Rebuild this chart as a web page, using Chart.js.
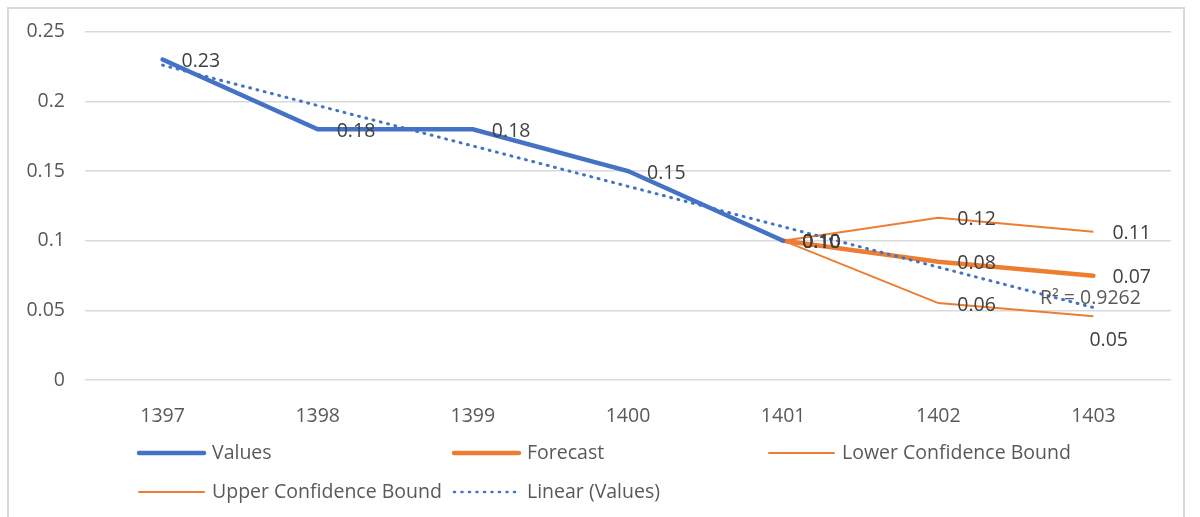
<!DOCTYPE html>
<html>
<head>
<meta charset="utf-8">
<script src="https://cdn.jsdelivr.net/npm/chart.js@4.4.1/dist/chart.umd.min.js"></script>
<style>
html, body { margin: 0; padding: 0; background: #fff; }
#wrap { position: relative; width: 1200px; height: 517px; overflow: hidden; }
#frame { position: absolute; left: 7px; top: 7px; width: 1178px; height: 530px; border: 2px solid #d9d9d9; box-sizing: border-box; }
canvas { position: absolute; left: 0; top: 0; }
</style>
</head>
<body>
<div id="wrap">
  <div id="frame"></div>
  <canvas id="lineChart1" width="1200" height="517"></canvas>
</div>
<script>
// data
const years = ['1397', '1398', '1399', '1400', '1401', '1402', '1403'];
const values = [0.23, 0.18, 0.18, 0.15, 0.10, null, null];
const forecast = [null, null, null, null, 0.10, 0.0849, 0.0748];
const lowerBound = [null, null, null, null, 0.10, 0.0552, 0.0457];
const upperBound = [null, null, null, null, 0.10, 0.1164, 0.1064];
const linearTrend = [0.226, 0.197, 0.168, 0.139, 0.110, 0.081, 0.052];
const rSquaredText = 'R² = 0.9262';

const blue = '#4472C4';
const orange = '#ED7D31';
const textGray = '#595959';
const fontSize = 19.5;

Chart.defaults.font.family = '"Open Sans", sans-serif';
Chart.defaults.font.size = fontSize;
Chart.defaults.color = textGray;

// value labels next to points
const pointLabels = {
    id: 'pointLabels',
    afterDatasetsDraw(chart) {
        const c = chart.ctx;
        c.save();
        c.font = fontSize + 'px "Open Sans", sans-serif';
        c.fillStyle = '#404040';
        c.textBaseline = 'middle';
        chart.data.datasets.forEach((ds, i) => {
            if (!ds.showLabels) return;
            const meta = chart.getDatasetMeta(i);
            meta.data.forEach((pt, j) => {
                const v = ds.data[j];
                if (v == null) return;
                const below = ds.labelBelow && ds.labelBelow.includes(j);
                c.fillText(v.toFixed(2), pt.x + (below ? -4 : 19), pt.y + (below ? 24 : 2));
            });
        });
        // R² text at the end of the trend line
        const trendIdx = chart.data.datasets.findIndex(d => d.isTrend);
        const last = chart.getDatasetMeta(trendIdx).data[linearTrend.length - 1];
        c.fillStyle = textGray;
        c.textAlign = 'center';
        c.fillText(rSquaredText, last.x - 3, last.y - 9);
        c.restore();
    }
};

// excel style legend grid, 3 columns
const gridLegend = {
    id: 'gridLegend',
    afterDraw(chart) {
        const c = chart.ctx;
        const cols = [138, 453, 768];
        const rows = [453, 492];
        c.save();
        c.font = fontSize + 'px "Open Sans", sans-serif';
        c.textBaseline = 'middle';
        chart.data.datasets.forEach((ds, k) => {
            const x = cols[k % 3];
            const y = rows[Math.floor(k / 3)];
            c.beginPath();
            c.strokeStyle = ds.borderColor;
            c.lineWidth = ds.isTrend ? 2.5 : ds.borderWidth;
            c.lineCap = ds.borderCapStyle || 'round';
            c.setLineDash(ds.borderDash || []);
            c.moveTo(x + 1, y);
            c.lineTo(x + 66, y);
            c.stroke();
            c.setLineDash([]);
            c.fillStyle = textGray;
            c.fillText(ds.label, x + 74, y);
        });
        c.restore();
    }
};

new Chart(document.getElementById('lineChart1').getContext('2d'), {
    type: 'line',
    data: {
        labels: years,
        datasets: [
            { label: 'Values', data: values, borderColor: blue, borderWidth: 4.5, borderCapStyle: 'round', showLabels: true },
            { label: 'Forecast', data: forecast, borderColor: orange, borderWidth: 4.5, borderCapStyle: 'round', showLabels: true },
            { label: 'Lower Confidence Bound', data: lowerBound, borderColor: orange, borderWidth: 2, showLabels: true, labelBelow: [6] },
            { label: 'Upper Confidence Bound', data: upperBound, borderColor: orange, borderWidth: 2, showLabels: true },
            { label: 'Linear (Values)', data: linearTrend, borderColor: blue, borderWidth: 3, borderDash: [1, 6.5], borderCapStyle: 'round', isTrend: true, order: -1 }
        ]
    },
    options: {
        responsive: false,
        animation: false,
        elements: { point: { radius: 0, hoverRadius: 0 }, line: { tension: 0 } },
        layout: { padding: { top: 31, right: 29, bottom: 0, left: 0 } },
        plugins: { legend: { display: false }, tooltip: { enabled: false } },
        scales: {
            x: {
                offset: true,
                grid: { display: false },
                border: { display: false },
                ticks: { padding: 17, color: textGray },
                afterFit: s => { s.height = 137; }
            },
            y: {
                min: 0,
                max: 0.25,
                grid: { color: '#d9d9d9', lineWidth: 1.5, drawTicks: false },
                border: { display: false },
                ticks: {
                    stepSize: 0.05,
                    padding: 20,
                    color: textGray,
                    callback: v => String(+v.toFixed(2))
                },
                afterFit: s => { s.width = 85; }
            }
        }
    },
    plugins: [pointLabels, gridLegend]
});
</script>
</body>
</html>
